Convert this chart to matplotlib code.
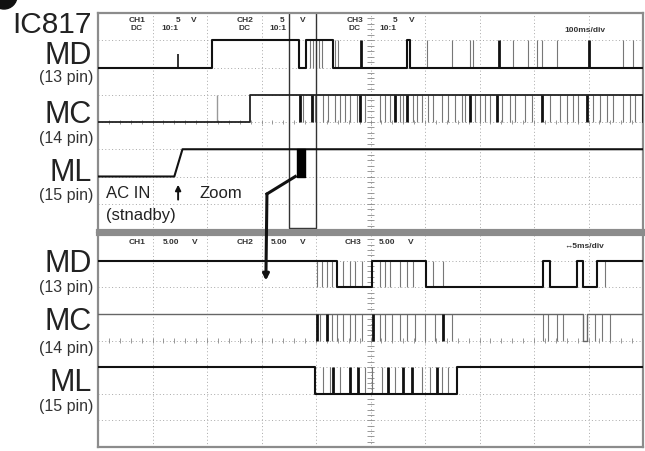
"""Recreate the IC817 MD/MC/ML oscilloscope capture."""
import matplotlib.pyplot as plt
import numpy as np
from matplotlib.patches import ConnectionPatch, Ellipse

plt.rcParams["font.family"] = ["Liberation Sans", "DejaVu Sans"]

W, H = 645, 452

# x = scope divisions (0-10), y = divisions (0-8)
# upper screen, 100 ms/div
md1_levels = (6, 7)
md1_high = [(2.09, 3.69), (3.82, 4.31), (5.67, 5.73)]
md1_dark = [4.83, 7.35, 9.00]
md1_thin = [3.89, 3.94, 4.00, 4.06, 4.11, 4.35, 4.40, 6.04, 6.50, 6.83,
            6.88, 7.61, 7.89, 8.06, 8.15, 8.42, 9.63, 9.82, 9.98]
md1_spike = (1.47, 6.5)

mc1_levels = (4, 5)
mc1_high = [(2.79, 10.0)]
mc1_dark = [3.71, 3.93, 4.81, 5.45, 5.67, 6.83, 7.32, 8.15, 8.97]
mc1_thin = [3.76, 3.98, 4.13, 4.22, 4.35, 4.44, 4.53, 4.62, 4.75, 4.90,
            5.17, 5.27, 5.36, 5.54, 5.60, 5.78, 5.85, 5.94, 6.06, 6.15,
            6.31, 6.42, 6.55, 6.68, 6.73, 6.92, 7.01, 7.10, 7.19, 7.41,
            7.56, 7.65, 7.83, 7.96, 8.29, 8.48, 8.61, 8.72, 8.81, 9.08,
            9.21, 9.34, 9.45, 9.63, 9.76, 9.85]
mc1_faint = [2.18]

ml1_t = [0.0, 1.40, 1.55, 10.0]
ml1_y = [2, 2, 3, 3]
ml1_burst = (3.65, 3.80)

# lower screen, 5 ms/div (zoomed)
md2_levels = (7, 6)
md2_low = [(4.39, 5.03), (6.02, 8.17), (8.29, 8.79), (8.90, 9.16)]
md2_thin = [4.02, 4.11, 4.20, 4.29, 4.50, 4.62, 4.72, 4.84, 5.17, 5.27,
            5.36, 5.54, 5.67, 5.78, 6.15, 6.33, 9.30]

mc2_levels = (5, 4)
mc2_low = [(8.89, 8.97)]
mc2_dark = [4.02, 4.20, 5.05, 6.33]
mc2_thin = [4.07, 4.29, 4.39, 4.50, 4.62, 4.72, 4.84, 5.17, 5.27, 5.39,
            5.54, 5.67, 5.82, 6.00, 6.18, 6.50, 8.17, 8.26, 8.42, 8.53,
            9.12, 9.25, 9.39]

ml2_levels = (3, 2)
ml2_low = [(3.98, 6.59)]
ml2_dark = [4.31, 4.62, 4.77, 5.32, 5.60, 5.76, 6.22]
ml2_thin = [4.13, 4.26, 4.44, 4.90, 5.03, 5.21, 5.45, 5.94, 6.09, 6.31,
            6.42]

channels = ["CH1", "CH2", "CH3"]


def px(x, y):
    return x / W, 1 - y / H


def square(intervals, base, alt):
    t, y = [0.0], [base]
    for a, b in intervals:
        t += [a, a, b, b]
        y += [base, alt, alt, base]
    t.append(10.0)
    y.append(base)
    return t, y


def screen(ax):
    ax.set_xlim(0, 10)
    ax.set_ylim(0, 8)
    ax.set_xticks([])
    ax.set_yticks([])
    for s in ax.spines.values():
        s.set_color("#8c8c8c")
        s.set_linewidth(1.6)
    for i in range(1, 10):
        ax.axvline(i, color="#a8a8a8", lw=0.7, ls=(0, (1, 2.5)), zorder=0)
    for j in range(1, 8):
        ax.axhline(j, color="#a8a8a8", lw=0.7, ls=(0, (1, 2.5)), zorder=0)
    ax.vlines(np.arange(0.2, 10, 0.2), 3.92, 4.08, color="#888", lw=0.6)
    ax.hlines(np.arange(0.2, 8, 0.2), 4.93, 5.07, color="#888", lw=0.6)


def draw(ax, intervals, levels, dark=(), thin=(), lw=1.5, color="#111"):
    base, alt = levels
    t, y = square(intervals, base, alt)
    ax.plot(t, y, color=color, lw=lw, zorder=3)
    lo, hi = min(levels), max(levels)
    ax.vlines(list(thin), lo, hi, color="#777", lw=0.8, zorder=2)
    ax.vlines(list(dark), lo, hi, color="#111", lw=2.0, zorder=3)


fig = plt.figure(figsize=(W / 100, H / 100), dpi=100)
ax1 = fig.add_axes([98 / W, 1 - 232 / H, 545 / W, 218 / H])
ax2 = fig.add_axes([98 / W, 1 - 448 / H, 545 / W, 213 / H])
screen(ax1)
screen(ax2)
ax1.spines["bottom"].set_linewidth(3)
ax2.spines["top"].set_linewidth(3)

# upper traces
draw(ax1, md1_high, md1_levels, md1_dark, md1_thin)
ax1.vlines(md1_spike[0], md1_levels[0], md1_spike[1], color="#111", lw=1.2)
draw(ax1, mc1_high, mc1_levels, mc1_dark, mc1_thin, lw=1.3, color="#222")
ax1.vlines(mc1_faint, 4, 5, color="#999", lw=1.0)
ax1.plot(ml1_t, ml1_y, color="#111", lw=1.5, zorder=3)
ax1.fill_between(ml1_burst, 2, 3, color="#000", zorder=3)

# zoom window and arrow
ax1.plot([3.5, 3.5, 4.0, 4.0], [8, 0.1, 0.1, 8], color="#333", lw=1.0)
ax1.plot([3.62, 3.10], [2.0, 1.36], color="#111", lw=2.2)
con = ConnectionPatch(xyA=(3.10, 1.36), coordsA=ax1.transData,
                      xyB=(3.08, 6.25), coordsB=ax2.transData,
                      arrowstyle="-|>", mutation_scale=9, lw=2.2,
                      color="#111")
fig.add_artist(con)
ax1.annotate("", xy=(1.47, 1.80), xytext=(1.47, 1.05),
             arrowprops=dict(arrowstyle="-|>", color="#111", lw=1.4,
                             mutation_scale=8))

# lower traces
draw(ax2, md2_low, md2_levels, (), md2_thin)
draw(ax2, mc2_low, mc2_levels, mc2_dark, mc2_thin, lw=1.0, color="#666")
draw(ax2, ml2_low, ml2_levels, ml2_dark, ml2_thin)

# scope readouts
small = dict(fontsize=6, fontweight="bold", color="#333",
             ha="center", va="center")
for name, cx, fx, vx in zip(channels, [137, 245, 355], [178, 282, 395],
                            [194, 303, 412]):
    fig.text(*px(cx, 20), name, **small)
    fig.text(*px(fx, 20), "5", **small)
    fig.text(*px(vx, 20), "V", **small)
    fig.text(*px(cx, 29), "DC", **small)
    fig.text(*px(cx + 33, 29), "10:1", **small)
fig.text(*px(585, 30), "100ms/div", **small)
for name, cx in zip(channels, [137, 245, 353]):
    fig.text(*px(cx, 243), name, **small)
    fig.text(*px(cx + 34, 243), "5.00", **small)
    fig.text(*px(cx + 58, 243), "V", **small)
fig.text(*px(584, 247), "↔5ms/div", **small)

# left-hand labels
big = dict(fontsize=22, ha="right", va="baseline", color="#222",
           family=["Liberation Sans Narrow", "Liberation Sans"])
pin = dict(fontsize=11.5, ha="right", va="baseline", color="#333")
fig.text(*px(12, 33), "IC817", fontsize=21.5, color="#222",
         ha="left", va="baseline")
for name, nb, pname, pb in [("MD", 64, "(13 pin)", 82),
                            ("MC", 123, "(14 pin)", 143),
                            ("ML", 181, "(15 pin)", 200),
                            ("MD", 272, "(13 pin)", 292),
                            ("MC", 330, "(14 pin)", 353),
                            ("ML", 391, "(15 pin)", 411)]:
    fig.text(*px(92, nb), name, **big)
    fig.text(*px(93, pb), pname, **pin)

note = dict(fontsize=12, color="#222", ha="left", va="baseline")
fig.text(*px(106, 198), "AC IN", **note)
fig.text(*px(106, 220), "(stnadby)", **note)
fig.text(*px(200, 198), "Zoom", **note)

fig.add_artist(Ellipse(px(4, -3), 26 / W, 26 / H, color="#111",
                       transform=fig.transFigure))

fig.savefig("out.png", dpi=100)
plt.close(fig)
